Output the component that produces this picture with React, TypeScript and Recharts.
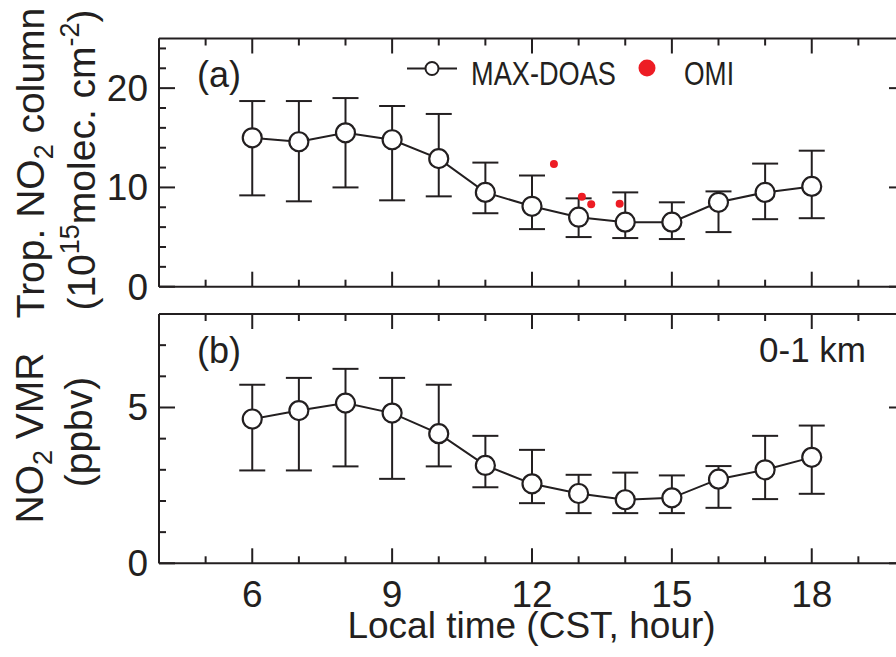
import { ComposedChart, Line, Scatter, XAxis, YAxis, ErrorBar, Legend } from 'recharts'

const FONT = '"Liberation Sans", Arial, Helvetica, sans-serif'
const INK = '#231f20'
const OMI_RED = '#ed1c24'

// hourly means (local time) with the low / high ends of each error bar
const hours = [6, 7, 8, 9, 10, 11, 12, 13, 14, 15, 16, 17, 18]

const columnMean = [15.0, 14.6, 15.5, 14.8, 12.9, 9.5, 8.1, 7.0, 6.5, 6.5, 8.5, 9.5, 10.1]
const columnHigh = [18.7, 18.7, 19.0, 18.2, 17.4, 12.5, 11.2, 8.9, 9.5, 8.5, 9.6, 12.4, 13.7]
const columnLow = [9.2, 8.6, 10.0, 8.7, 9.1, 7.4, 5.8, 5.0, 4.9, 4.8, 5.5, 6.8, 6.9]

const vmrMean = [4.63, 4.9, 5.14, 4.82, 4.16, 3.14, 2.55, 2.24, 2.04, 2.1, 2.7, 3.0, 3.4]
const vmrHigh = [5.73, 5.95, 6.24, 5.95, 5.73, 4.09, 3.64, 2.84, 2.91, 2.82, 3.12, 4.09, 4.42]
const vmrLow = [2.98, 2.98, 3.11, 2.71, 3.11, 2.44, 1.93, 1.61, 1.61, 1.61, 1.78, 2.06, 2.23]

// satellite overpasses
const omiHours = [12.47, 13.07, 13.27, 13.88]
const omiColumn = [12.35, 9.06, 8.3, 8.36]

const hourTicks = [4, 5, 6, 7, 8, 9, 10, 11, 12, 13, 14, 15, 16, 17, 18, 19, 20]
const hourMajor = [6, 9, 12, 15, 18]
const columnTicks = [0, 2, 4, 6, 8, 10, 12, 14, 16, 18, 20, 22, 24]
const columnMajor = [0, 10, 20]
const vmrTicks = [0, 1, 2, 3, 4, 5, 6, 7]
const vmrMajor = [0, 5]

function buildRows(mean: number[], low: number[], high: number[]) {
  return hours.map((hour, i) => ({
    hour,
    mean: mean[i],
    err: [mean[i] - low[i], high[i] - mean[i]],
  }))
}

const columnRows = buildRows(columnMean, columnLow, columnHigh)
const vmrRows = buildRows(vmrMean, vmrLow, vmrHigh)
const omiRows = omiHours.map((hour, i) => ({ hour, omi: omiColumn[i] }))

const frameLine = { stroke: INK, strokeWidth: 2 }
const MAJOR = 15
const MINOR = 7

// inward tick marks, drawn by hand so major and minor ticks get different lengths
const bottomTick = (showLabels: boolean) => (props: any) => {
  const { x, y, payload } = props
  const major = hourMajor.includes(payload.value)
  return (
    <g>
      <line x1={x} x2={x} y1={y} y2={y - (major ? MAJOR : MINOR)} stroke={INK} strokeWidth={2} />
      {showLabels && major && (
        <text x={x} y={y + 44} textAnchor="middle" fontSize={37} fill={INK} fontFamily={FONT}>
          {payload.value}
        </text>
      )}
    </g>
  )
}

const topTick = (props: any) => {
  const { x, y, payload } = props
  const major = hourMajor.includes(payload.value)
  return <line x1={x} x2={x} y1={y} y2={y + (major ? MAJOR : MINOR)} stroke={INK} strokeWidth={2} />
}

const leftTick = (majorTicks: number[]) => (props: any) => {
  const { x, y, payload } = props
  const major = majorTicks.includes(payload.value)
  return (
    <g>
      <line x1={x} x2={x + (major ? 16 : MINOR)} y1={y} y2={y} stroke={INK} strokeWidth={2} />
      {major && (
        <text x={x - 11} y={y + 13} textAnchor="end" fontSize={37} fill={INK} fontFamily={FONT}>
          {payload.value}
        </text>
      )}
    </g>
  )
}

const rightTick = (majorTicks: number[]) => (props: any) => {
  const { x, y, payload } = props
  const major = majorTicks.includes(payload.value)
  return <line x1={x} x2={x - (major ? 16 : MINOR)} y1={y} y2={y} stroke={INK} strokeWidth={2} />
}

// axes are 1px thick so recharts still draws them; margins below take that pixel back
function hourAxes(showLabels: boolean) {
  return [
    <XAxis
      key="x-bottom"
      type="number"
      dataKey="hour"
      domain={[4, 20]}
      allowDataOverflow
      ticks={hourTicks}
      interval={0}
      height={1}
      tickSize={0}
      tickMargin={0}
      tickLine={false}
      axisLine={frameLine}
      tick={bottomTick(showLabels)}
    />,
    <XAxis
      key="x-top"
      xAxisId="top"
      orientation="top"
      type="number"
      dataKey="hour"
      domain={[4, 20]}
      allowDataOverflow
      ticks={hourTicks}
      interval={0}
      height={1}
      tickSize={0}
      tickMargin={0}
      tickLine={false}
      axisLine={frameLine}
      tick={topTick}
    />,
  ]
}

function valueAxes(domain: [number, number], ticks: number[], major: number[]) {
  return [
    <YAxis
      key="y-left"
      type="number"
      domain={domain}
      allowDataOverflow
      ticks={ticks}
      interval={0}
      width={1}
      tickSize={0}
      tickMargin={0}
      tickLine={false}
      axisLine={frameLine}
      tick={leftTick(major)}
    />,
    <YAxis
      key="y-right"
      yAxisId="right"
      orientation="right"
      type="number"
      domain={domain}
      allowDataOverflow
      ticks={ticks}
      interval={0}
      width={1}
      tickSize={0}
      tickMargin={0}
      tickLine={false}
      axisLine={frameLine}
      tick={rightTick(major)}
    />,
  ]
}

const dotStyle = { r: 9.5, fill: '#ffffff', stroke: INK, strokeWidth: 2.2 }

function MaxDoasLegend() {
  return (
    <svg width={340} height={40} style={{ display: 'block', overflow: 'visible' }}>
      <line x1={7} x2={57} y1={20.5} y2={20.5} stroke={INK} strokeWidth={2} />
      <circle cx={32} cy={20.5} r={6.5} fill="#ffffff" stroke={INK} strokeWidth={2} />
      <text x={71} y={36.5} fontSize={33} textLength={145} lengthAdjust="spacingAndGlyphs" fill={INK} fontFamily={FONT}>
        MAX-DOAS
      </text>
      <circle cx={247} cy={20} r={8.5} fill={OMI_RED} />
      <text x={284} y={36.5} fontSize={33} textLength={50} lengthAdjust="spacingAndGlyphs" fill={INK} fontFamily={FONT}>
        OMI
      </text>
    </svg>
  )
}

const titleStyle = { fontSize: 39, fill: INK, fontFamily: FONT }

export default function App() {
  return (
    <div
      style={{
        position: 'absolute',
        left: 0,
        top: 0,
        width: 896,
        height: 657,
        overflow: 'hidden',
        background: '#ffffff',
      }}
    >
      {/* (a) tropospheric NO2 column */}
      <div style={{ position: 'absolute', left: 0, top: 0 }}>
        <ComposedChart
          width={960}
          height={330}
          data={columnRows}
          margin={{ top: 37.5, right: 54, bottom: 42.3, left: 158 }}
        >
          {hourAxes(false)}
          {valueAxes([0, 25], columnTicks, columnMajor)}
          <Line
            dataKey="mean"
            type="linear"
            stroke={INK}
            strokeWidth={2}
            dot={dotStyle}
            activeDot={false}
            isAnimationActive={false}
          >
            <ErrorBar dataKey="err" direction="y" width={13} stroke={INK} strokeWidth={2} isAnimationActive={false} />
          </Line>
          <Scatter
            data={omiRows}
            dataKey="omi"
            isAnimationActive={false}
            shape={(p: any) => <circle cx={p.cx} cy={p.cy} r={4} fill={OMI_RED} />}
          />
          <Legend
            layout="horizontal"
            verticalAlign="middle"
            align="center"
            content={() => <MaxDoasLegend />}
            wrapperStyle={{ left: 400, top: 48, width: 340, height: 40 }}
          />
          <text x={197} y={87} fontSize={36} fill={INK} fontFamily={FONT}>
            (a)
          </text>
          <text transform="translate(44,163) rotate(-90)" textAnchor="middle" {...titleStyle}>
            Trop. NO
            <tspan dy={9} fontSize={27}>2</tspan>
            <tspan dy={-9}> column</tspan>
          </text>
          <text transform="translate(95,160) rotate(-90)" textAnchor="middle" {...titleStyle}>
            (10
            <tspan dy={-16} fontSize={27}>15</tspan>
            <tspan dy={16}>molec. cm</tspan>
            <tspan dy={-16} fontSize={27}>-2</tspan>
            <tspan dy={16}>)</tspan>
          </text>
        </ComposedChart>
      </div>

      {/* (b) NO2 mixing ratio in the lowest kilometre */}
      <div style={{ position: 'absolute', left: 0, top: 300 }}>
        <ComposedChart
          width={960}
          height={357}
          data={vmrRows}
          margin={{ top: 13, right: 54, bottom: 92.7, left: 158 }}
        >
          {hourAxes(true)}
          {valueAxes([0, 8], vmrTicks, vmrMajor)}
          <Line
            dataKey="mean"
            type="linear"
            stroke={INK}
            strokeWidth={2}
            dot={dotStyle}
            activeDot={false}
            isAnimationActive={false}
          >
            <ErrorBar dataKey="err" direction="y" width={13} stroke={INK} strokeWidth={2} isAnimationActive={false} />
          </Line>
          <text x={197} y={63} fontSize={36} fill={INK} fontFamily={FONT}>
            (b)
          </text>
          <text x={866} y={62} textAnchor="end" fontSize={35} fill={INK} fontFamily={FONT}>
            0-1 km
          </text>
          <text transform="translate(43,138) rotate(-90)" textAnchor="middle" {...titleStyle}>
            NO
            <tspan dy={9} fontSize={27}>2</tspan>
            <tspan dy={-9}> VMR</tspan>
          </text>
          <text transform="translate(92,132) rotate(-90)" textAnchor="middle" {...titleStyle}>
            (ppbv)
          </text>
          <text x={531.5} y={338} textAnchor="middle" fontSize={37} fill={INK} fontFamily={FONT}>
            Local time (CST, hour)
          </text>
        </ComposedChart>
      </div>
    </div>
  )
}
